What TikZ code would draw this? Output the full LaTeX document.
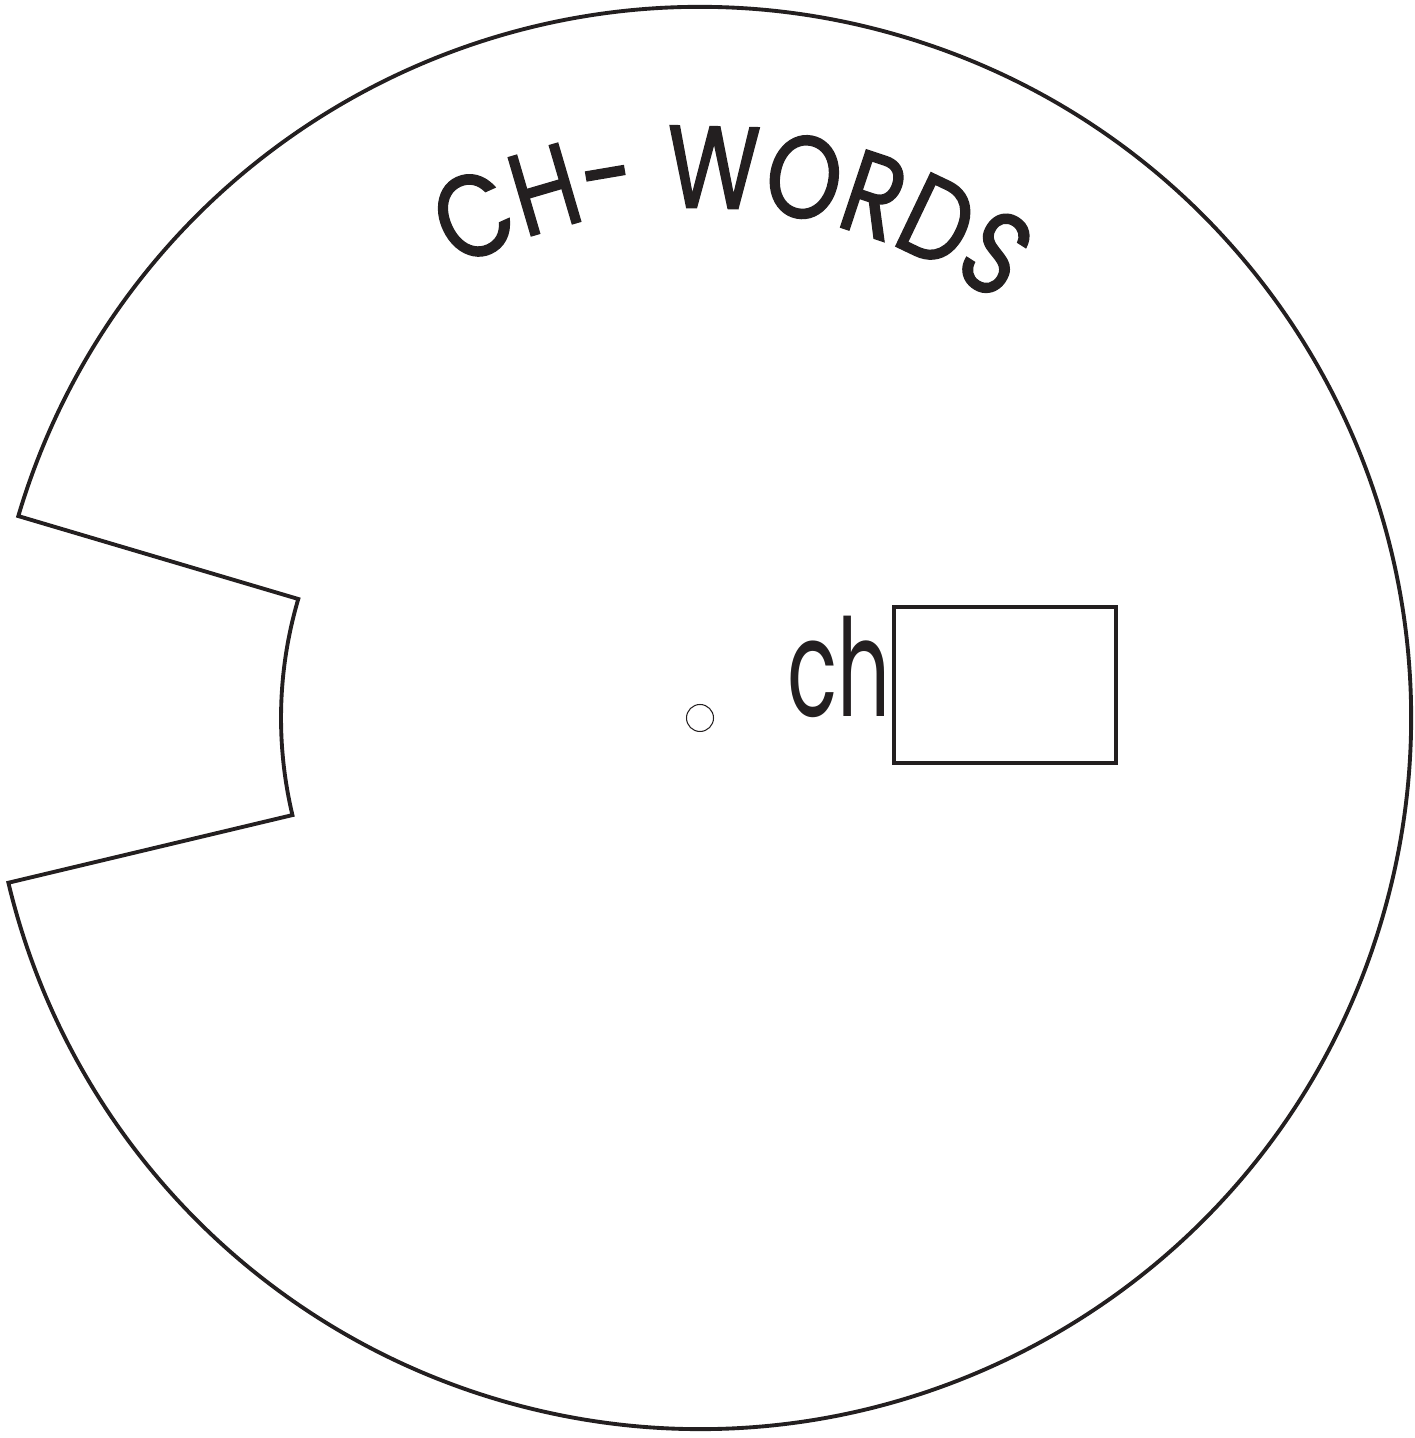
\documentclass[tikz,border=0pt]{standalone}
\usepackage{fontspec}
\newfontfamily\wheelfont[FakeStretch=0.82,FakeBold=1.2]{Poppins}
\newfontfamily\stemfont[FakeStretch=0.61]{Poppins}
\usepackage{tikz}
\usetikzlibrary{positioning,calc,decorations.text}
\definecolor{ink}{HTML}{231F20}

\begin{document}
\begin{tikzpicture}[
    disc/.style={
        draw=ink,
        line width=1.1pt,
        line join=miter
    },
    slot/.style={
        draw=ink,
        line width=0.95pt,
        minimum width=2.22cm,
        minimum height=1.56cm,
        inner sep=0pt
    },
    hole/.style={
        circle,
        draw=ink,
        line width=0.3pt,
        minimum size=0.27cm,
        inner sep=0pt
    },
    stemtext/.style={
        text=ink,
        inner sep=0pt,
        font=\stemfont\fontsize{38.6pt}{46pt}\selectfont
    }
]
\useasboundingbox (0,0) rectangle (14.15,14.38);

% wheel with notch
\coordinate (ctr) at (7.00,7.20);
\draw[disc] ($(ctr)+(163.5:7.11)$)
    arc[start angle=163.5, end angle=-166.6, radius=7.11]
    -- ($(ctr)+(193.4:4.19)$)
    arc[start angle=193.4, end angle=163.5, radius=4.19]
    -- cycle;

% centre hole
\node[hole] (pin) at (ctr) {};

% heading
\path[decorate, decoration={text along path, text align=center,
    text color=ink,
    text={|\wheelfont\fontsize{33.3pt}{40pt}\selectfont|CH- WORDS}}]
    ($(ctr)+(130:5.1)$) arc[start angle=130, end angle=42.8, radius=5.1];

% word window
\node[slot] (window) at (10.05,7.53) {};
\node[stemtext, anchor=base east] (ch) at ($(window.west)+(-0.01,-0.32)$) {ch};

\end{tikzpicture}
\end{document}
